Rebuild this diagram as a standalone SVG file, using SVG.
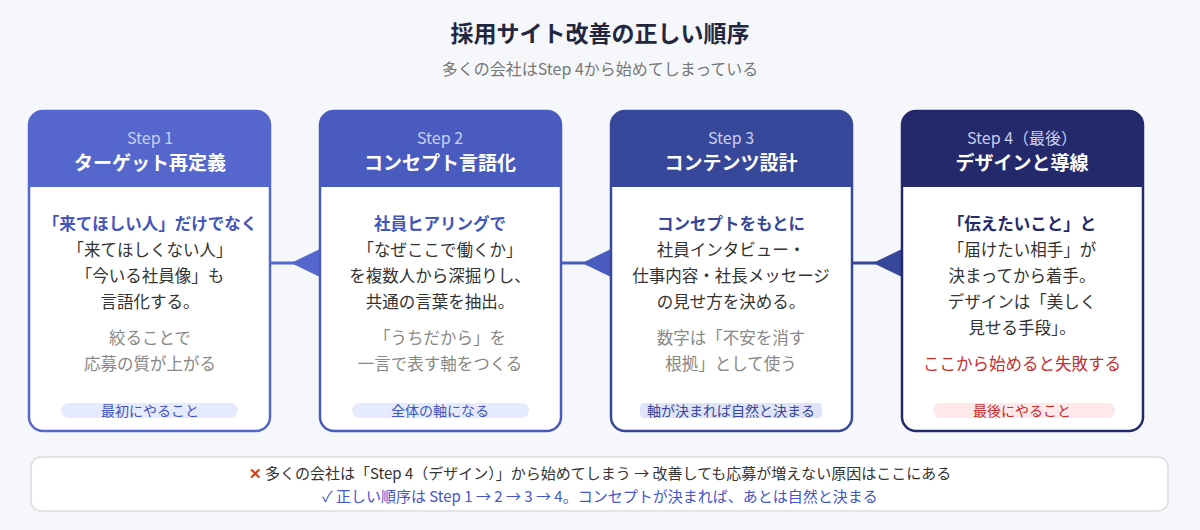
<svg xmlns="http://www.w3.org/2000/svg" width="1200" height="530" viewBox="0 0 1200 530">
<style>
text{font-family:"Noto Sans CJK JP","Noto Sans",sans-serif;text-anchor:middle}
.t{font-size:23px;font-weight:700;fill:#23263f}
.st{font-size:16px;fill:#777}
.sl{font-size:16px;fill:#c9d0f2}
.h{font-size:19px;font-weight:700;fill:#fff}
.b{font-size:16.5px;fill:#333}
.k{font-size:16.5px;font-weight:700;fill:#4455bb}
.kd{font-size:16.5px;font-weight:700;fill:#23296b}
.g{font-size:16.5px;fill:#888}
.r{font-size:16.5px;fill:#c62e2e}
.bd{font-size:14px;fill:#4455bb}
.n{font-size:15px;fill:#333}
.nb{font-size:15px;fill:#4455cc}
</style>
<rect width="1200" height="530" fill="#f6f7fa"/>
<text class="t" x="600" y="42">採用サイト改善の正しい順序</text>
<text class="st" x="600" y="75">多くの会社はStep 4から始めてしまっている</text>
<g id="connectors">
<line x1="270" y1="263" x2="320" y2="263" stroke="#5566cc" stroke-width="3"/>
<polygon points="291,263 320,249 320,277" fill="#5566cc"/>
<line x1="561" y1="263" x2="611" y2="263" stroke="#4a5bbf" stroke-width="3"/>
<polygon points="582,263 611,249 611,277" fill="#4a5bbf"/>
<line x1="852" y1="263" x2="902" y2="263" stroke="#37479a" stroke-width="3"/>
<polygon points="873,263 902,249 902,277" fill="#37479a"/>
</g>
<g id="step1">
<rect x="29" y="111" width="241" height="320" rx="14" fill="#fff" stroke="#5566cc" stroke-width="2.5"/>
<path d="M29 187V125a14 14 0 0 1 14-14h213a14 14 0 0 1 14 14v62z" fill="#5566cc"/>
<text class="sl" x="150" y="144">Step 1</text>
<text class="h" x="150" y="170">ターゲット再定義</text>
<text class="k" x="150" y="230">「来てほしい人」だけでなく</text>
<text class="b" x="150" y="256">「来てほしくない人」</text>
<text class="b" x="150" y="282">「今いる社員像」も</text>
<text class="b" x="150" y="308">言語化する。</text>
<text class="g" x="150" y="344">絞ることで</text>
<text class="g" x="150" y="370">応募の質が上がる</text>
<rect x="61" y="403" width="177" height="15" rx="7.5" fill="#e6eafd"/>
<text class="bd" x="150" y="416">最初にやること</text>
</g>
<g id="step2">
<rect x="320" y="111" width="241" height="320" rx="14" fill="#fff" stroke="#4a5bbf" stroke-width="2.5"/>
<path d="M320 187V125a14 14 0 0 1 14-14h213a14 14 0 0 1 14 14v62z" fill="#4a5bbf"/>
<text class="sl" x="440" y="144">Step 2</text>
<text class="h" x="440" y="170">コンセプト言語化</text>
<text class="k" x="440" y="230">社員ヒアリングで</text>
<text class="b" x="440" y="256">「なぜここで働くか」</text>
<text class="b" x="440" y="282">を複数人から深掘りし、</text>
<text class="b" x="440" y="308">共通の言葉を抽出。</text>
<text class="g" x="440" y="344">「うちだから」を</text>
<text class="g" x="440" y="370">一言で表す軸をつくる</text>
<rect x="352" y="403" width="177" height="15" rx="7.5" fill="#e6eafd"/>
<text class="bd" x="440" y="416">全体の軸になる</text>
</g>
<g id="step3">
<rect x="611" y="111" width="241" height="320" rx="14" fill="#fff" stroke="#37479a" stroke-width="2.5"/>
<path d="M611 187V125a14 14 0 0 1 14-14h213a14 14 0 0 1 14 14v62z" fill="#37479a"/>
<text class="sl" x="731" y="144">Step 3</text>
<text class="h" x="731" y="170">コンテンツ設計</text>
<text class="k" x="731" y="230" style="fill:#37479a">コンセプトをもとに</text>
<text class="b" x="731" y="256">社員インタビュー・</text>
<text class="b" x="731" y="282">仕事内容・社長メッセージ</text>
<text class="b" x="731" y="308">の見せ方を決める。</text>
<text class="g" x="731" y="344">数字は「不安を消す</text>
<text class="g" x="731" y="370">根拠」として使う</text>
<rect x="640" y="403" width="182" height="15" rx="4" fill="#dfe4f8"/>
<text class="bd" x="731" y="416" style="fill:#37479a">軸が決まれば自然と決まる</text>
</g>
<g id="step4">
<rect x="902" y="111" width="241" height="320" rx="14" fill="#fff" stroke="#24296b" stroke-width="2.5"/>
<path d="M902 187V125a14 14 0 0 1 14-14h213a14 14 0 0 1 14 14v62z" fill="#24296b"/>
<text class="sl" x="1022" y="144">Step 4（最後）</text>
<text class="h" x="1022" y="170">デザインと導線</text>
<text class="kd" x="1022" y="230">「伝えたいこと」と</text>
<text class="b" x="1022" y="256">「届けたい相手」が</text>
<text class="b" x="1022" y="282">決まってから着手。</text>
<text class="b" x="1022" y="308">デザインは「美しく</text>
<text class="b" x="1022" y="334">見せる手段」。</text>
<text class="r" x="1022" y="370">ここから始めると失敗する</text>
<rect x="933" y="403" width="182" height="15" rx="7.5" fill="#fde9ea"/>
<text class="bd" x="1022" y="416" style="fill:#c62e2e">最後にやること</text>
</g>
<g id="note">
<rect x="31" y="457" width="1137" height="54" rx="10" fill="#fff" stroke="#dcdde3" stroke-width="1.5"/>
<text class="n" x="600" y="479"><tspan fill="#d63a1f" font-weight="700">✕</tspan> 多くの会社は「Step 4（デザイン）」から始めてしまう → 改善しても応募が増えない原因はここにある</text>
<text class="nb" x="600" y="502">✓ 正しい順序は Step 1 → 2 → 3 → 4。コンセプトが決まれば、あとは自然と決まる</text>
</g>
</svg>
